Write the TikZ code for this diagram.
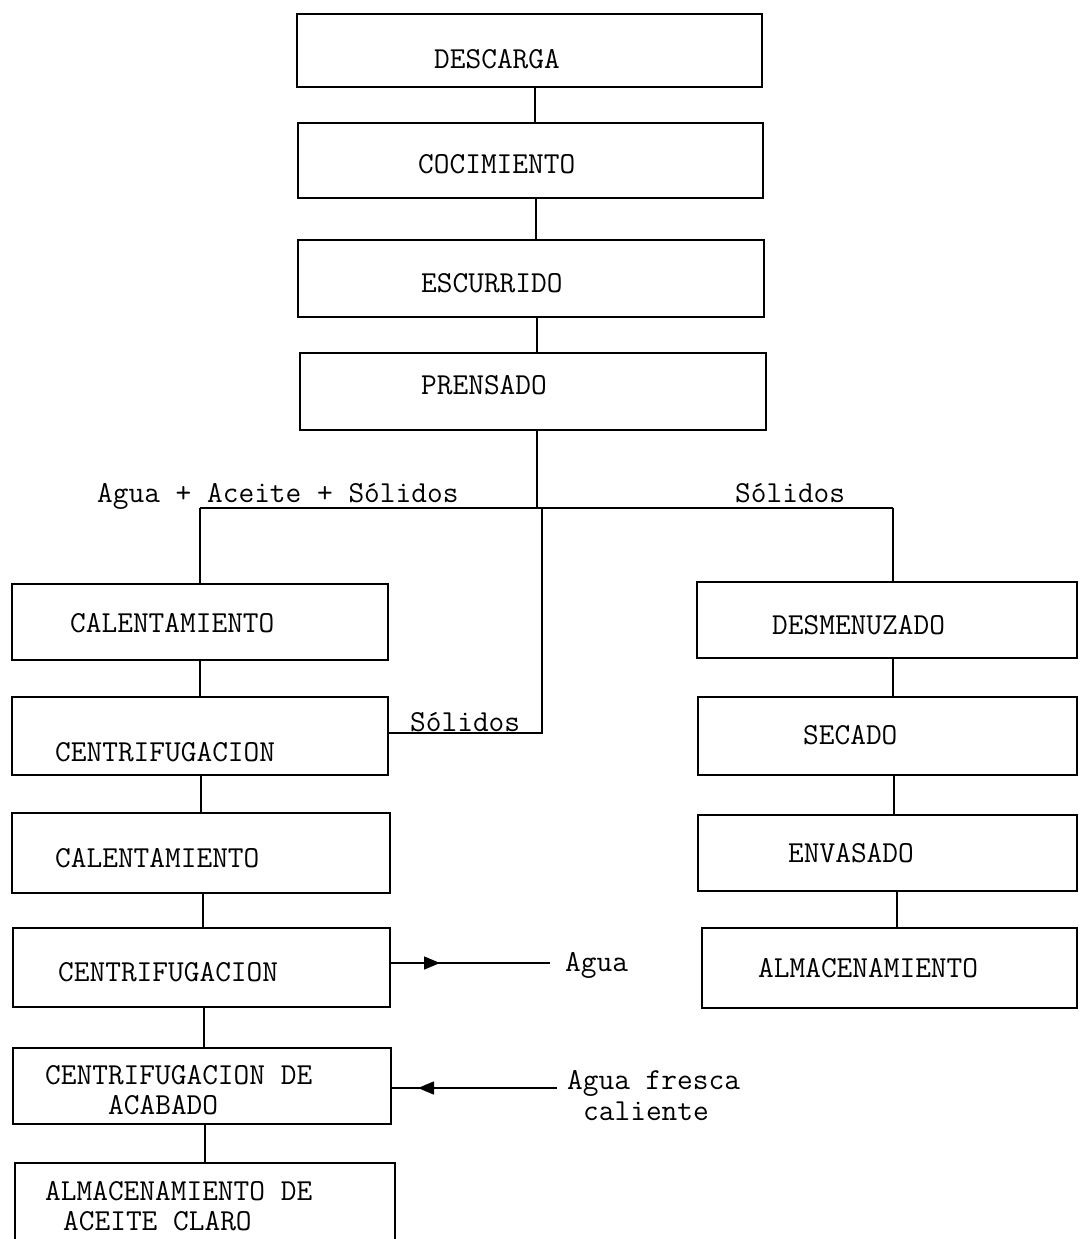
\documentclass[tikz,border=0pt]{standalone}
\usepackage{fontspec}
\usetikzlibrary{arrows.meta}
\tikzset{
  box/.style={draw, rectangle, line width=1.6pt, inner sep=0pt},
  lbl/.style={anchor=base west, inner sep=0pt, font=\ttfamily\fontsize{30.5}{34}\selectfont},
  conn/.style={line width=1.6pt},
  tip/.style={line width=1.6pt, -{Triangle[length=16pt,width=13pt]}},
}
\newcommand\bx[5]{\node[box, minimum width={#4-#2}, minimum height={#5-#3}] (#1) at ({(#2+#4)/2},{(#3+#5)/2}) {};}
\newcommand\tx[4]{\node[lbl] (#1) at (#2,{#3+9}) {#4};}
\newcommand\vc[3]{\coordinate (v#1#2) at (#3,0); \draw[conn] (#1.south -| v#1#2) -- (#2.north -| v#1#2);}
\begin{document}
\begin{tikzpicture}[x=1pt,y=-1pt]
\clip (0,0) rectangle (1079,1239);
\fill[white] (0,0) rectangle (1079,1239);
% boxes
\bx{desc}{297}{14}{762}{87}
\bx{coc}{298}{123}{763}{198}
\bx{esc}{298}{240}{764}{317}
\bx{pren}{300}{353}{766}{430}
\bx{cal1}{12}{584}{388}{660}
\bx{cen1}{12}{697}{388}{775}
\bx{cal2}{12}{813}{390}{893}
\bx{cen2}{13}{928}{390}{1007}
\bx{acab}{13}{1048}{391}{1124}
\bx{alma}{15}{1163}{395}{1260}
\bx{desm}{697}{582}{1077}{658}
\bx{sec}{698}{697}{1077}{775}
\bx{env}{698}{815}{1077}{891}
\bx{alm}{702}{928}{1077}{1008}
% texts
\tx{tdesc}{434}{59}{DESCARGA}
\tx{tcoc}{418}{164}{COCIMIENTO}
\tx{tesc}{421}{283}{ESCURRIDO}
\tx{tpren}{421}{385}{PRENSADO}
\tx{tcal1}{70}{623}{CALENTAMIENTO}
\tx{tcen1}{55}{752}{CENTRIFUGACION}
\tx{tcal2}{55}{858}{CALENTAMIENTO}
\tx{tcen2}{58}{972}{CENTRIFUGACION}
\tx{tacab1}{45}{1075}{CENTRIFUGACION DE}
\tx{tacab2}{108}{1105}{ACABADO}
\tx{talma1}{45}{1191}{ALMACENAMIENTO DE}
\tx{talma2}{63}{1221}{ACEITE CLARO}
\tx{tdesm}{772}{625}{DESMENUZADO}
\tx{tsec}{803}{735}{SECADO}
\tx{tenv}{788}{853}{ENVASADO}
\tx{talm}{758}{968}{ALMACENAMIENTO}
\tx{lmix}{97}{493}{Agua + Aceite + Sólidos}
\tx{lsolr}{735}{493}{Sólidos}
\tx{lsolm}{410}{722}{Sólidos}
\tx{lagua}{565}{962}{Agua}
\tx{lfres1}{567}{1080}{Agua fresca}
\tx{lfres2}{583}{1111}{caliente}
% vertical connectors
\vc{desc}{coc}{535}
\vc{coc}{esc}{536}
\vc{esc}{pren}{537}
\vc{cal1}{cen1}{200}
\vc{cen1}{cal2}{201}
\vc{cal2}{cen2}{203}
\vc{cen2}{acab}{204}
\vc{acab}{alma}{205}
\vc{desm}{sec}{893}
\vc{sec}{env}{894}
\vc{env}{alm}{897}
% split after PRENSADO
\coordinate (jn) at (537,508);
\coordinate (jl) at (200,508);
\coordinate (jr) at (893,508);
\coordinate (jm) at (542,508);
\coordinate (sm) at (542,733);
\draw[conn] (pren.south -| jn) -- (jn);
\draw[conn] (jl) -- (jr);
\draw[conn] (jl) -- (cal1.north -| jl);
\draw[conn] (jr) -- (desm.north -| jr);
\draw[conn] (jm) -- (sm) -- (cen1.east |- sm);
% water out
\coordinate (aguaend) at (550,963);
\coordinate (aguabase) at (424,963);
\coordinate (aguatip) at (440,963);
\draw[conn] (cen2.east |- aguaend) -- (aguaend);
\draw[tip] (aguabase) -- (aguatip);
% fresh hot water in
\coordinate (afend) at (557,1088);
\coordinate (afbase) at (434,1088);
\coordinate (aftip) at (418,1088);
\draw[conn] (afend) -- (acab.east |- afend);
\draw[tip] (afbase) -- (aftip);
\end{tikzpicture}
\end{document}
